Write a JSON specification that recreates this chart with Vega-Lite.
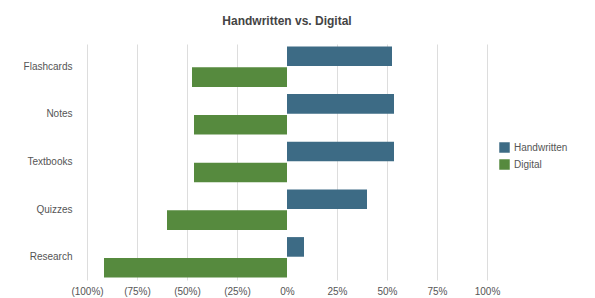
{
  "$schema": "https://vega.github.io/schema/vega-lite/v6.json",
  "width": 400,
  "height": 236,
  "autosize": {"type": "none"},
  "padding": {"left": 87, "top": 44, "right": 108, "bottom": 18},
  "background": "white",
  "title": {
    "text": "Handwritten vs. Digital",
    "fontSize": 12,
    "fontWeight": "bold",
    "font": "Liberation Sans",
    "color": "#444444",
    "anchor": "middle",
    "offset": 16
  },
  "data": {
    "values": [
      {"category": "Flashcards", "series": "Handwritten", "value": 0.525},
      {"category": "Flashcards", "series": "Digital", "value": -0.475},
      {"category": "Notes", "series": "Handwritten", "value": 0.535},
      {"category": "Notes", "series": "Digital", "value": -0.465},
      {"category": "Textbooks", "series": "Handwritten", "value": 0.535},
      {"category": "Textbooks", "series": "Digital", "value": -0.465},
      {"category": "Quizzes", "series": "Handwritten", "value": 0.40},
      {"category": "Quizzes", "series": "Digital", "value": -0.60},
      {"category": "Research", "series": "Handwritten", "value": 0.085},
      {"category": "Research", "series": "Digital", "value": -0.915}
    ]
  },
  "config": {
    "view": {"stroke": null},
    "font": "Liberation Sans"
  },
  "mark": {"type": "bar"},
  "encoding": {
    "y": {
      "field": "category",
      "type": "nominal",
      "sort": ["Flashcards", "Notes", "Textbooks", "Quizzes", "Research"],
      "scale": {"paddingInner": 0.15, "paddingOuter": 0.05},
      "axis": {
        "title": null,
        "ticks": false,
        "domain": false,
        "labelPadding": 15,
        "labelFontSize": 10,
        "labelColor": "#555555"
      }
    },
    "yOffset": {
      "field": "series",
      "type": "nominal",
      "sort": ["Handwritten", "Digital"],
      "scale": {"paddingInner": 0.06}
    },
    "x": {
      "field": "value",
      "type": "quantitative",
      "scale": {"domain": [-1, 1], "nice": false},
      "axis": {
        "title": null,
        "values": [-1, -0.75, -0.5, -0.25, 0, 0.25, 0.5, 0.75, 1],
        "labelExpr": "datum.value < 0 ? '(' + format(-datum.value, '.0%') + ')' : format(datum.value, '.0%')",
        "labelFlush": false,
        "labelOverlap": false,
        "ticks": false,
        "domain": false,
        "grid": true,
        "gridColor": {"condition": {"test": "datum.value === 0", "value": "transparent"}, "value": "#dddddd"},
        "labelPadding": 6,
        "labelFontSize": 10,
        "labelColor": "#555555"
      }
    },
    "color": {
      "field": "series",
      "type": "nominal",
      "scale": {"domain": ["Handwritten", "Digital"], "range": ["#3d6b85", "#568a3e"]},
      "legend": {
        "title": null,
        "orient": "none",
        "legendX": 412,
        "legendY": 98,
        "symbolType": "square",
        "symbolSize": 110,
        "symbolStrokeWidth": 0,
        "labelFontSize": 10,
        "labelColor": "#555555",
        "rowPadding": 6
      }
    }
  }
}
